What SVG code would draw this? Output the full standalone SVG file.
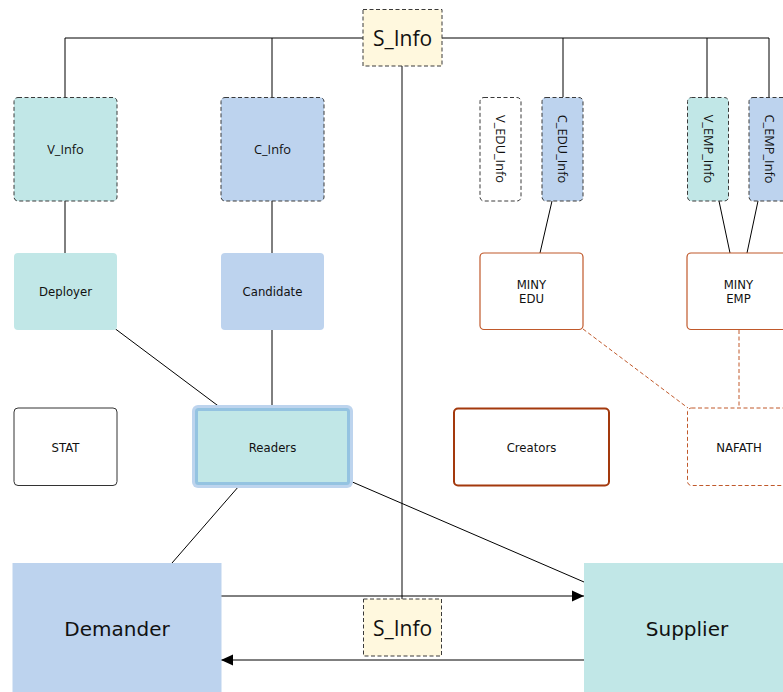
<svg xmlns="http://www.w3.org/2000/svg" width="783" height="692" viewBox="0 0 783 692">
  <defs>
    <marker id="arrow" viewBox="0 0 12 12" refX="12" refY="6" markerWidth="12" markerHeight="12" markerUnits="userSpaceOnUse" orient="auto">
      <path d="M0,0.5 L12,6 L0,11.5 Z" fill="#000"/>
    </marker>
    <style>
      .lbl { font-family: "DejaVu Sans", "Liberation Sans", sans-serif; font-size: 11.7px; fill: #111; text-anchor: middle; }
      .info { font-family: "Open Sans", "Liberation Sans", sans-serif; font-size: 12.8px; fill: #111; text-anchor: middle; }
      .big { font-family: "DejaVu Sans", "Liberation Sans", sans-serif; font-size: 20px; fill: #111; text-anchor: middle; }
      .sinfo { font-family: "Open Sans", "Liberation Sans", sans-serif; font-size: 21px; fill: #111; text-anchor: middle; }
      .dash { stroke: #3a3a3a; stroke-width: 1; stroke-dasharray: 4 2.5; }
      .teal { fill: #c1e7e7; }
      .blue { fill: #bdd3ee; }
      .cream { fill: #fff8de; }
      .white { fill: #ffffff; }
      .link { stroke: #000; stroke-width: 1; fill: none; }
      .orange { fill: #fff; stroke: #c0592b; stroke-width: 1.2; }
      .odash { stroke: #c0592b; stroke-width: 1; stroke-dasharray: 4 2.5; fill: none; }
    </style>
  </defs>

  <!-- connectors -->
  <g id="connectors">
    <!-- S_Info bus -->
    <polyline class="link" points="65,97 65,38 363,38"/>
    <line class="link" x1="272" y1="38" x2="272" y2="97"/>
    <polyline class="link" points="442,38 769,38 769,97"/>
    <line class="link" x1="563" y1="38" x2="563" y2="97"/>
    <line class="link" x1="707" y1="38" x2="707" y2="97"/>
    <line x1="402" y1="66" x2="402" y2="599" stroke="#5a5a5a" stroke-width="1.5"/>
    <!-- info to roles -->
    <line class="link" x1="65" y1="201" x2="65" y2="253"/>
    <line class="link" x1="272" y1="201" x2="272" y2="253"/>
    <line class="link" x1="115.5" y1="329" x2="221" y2="408"/>
    <line class="link" x1="272" y1="330" x2="272" y2="408"/>
    <line class="link" x1="239" y1="486" x2="172" y2="563"/>
    <line class="link" x1="350" y1="481" x2="584" y2="582"/>
    <!-- education / employment -->
    <line class="link" x1="552" y1="201" x2="540" y2="253"/>
    <line class="link" x1="719" y1="201" x2="730" y2="253"/>
    <line class="link" x1="758" y1="201" x2="747" y2="253"/>
    <line class="odash" x1="583" y1="329" x2="688" y2="408"/>
    <line class="odash" x1="739" y1="330" x2="739" y2="408"/>
    <!-- exchange arrows -->
    <line class="link" x1="221" y1="596" x2="584" y2="596" marker-end="url(#arrow)"/>
    <line class="link" x1="584" y1="660" x2="221" y2="660" marker-end="url(#arrow)"/>
  </g>

  <g id="s_info_top">
    <rect class="cream dash" x="363" y="9.5" width="79" height="56.5"/>
    <text class="sinfo" x="402.5" y="46">S_Info</text>
  </g>

  <g id="v_info">
    <rect class="teal dash" x="14" y="97.5" width="103" height="103.5" rx="4"/>
    <text class="info" x="65.5" y="154">V_Info</text>
  </g>
  <g id="c_info">
    <rect class="blue dash" x="221" y="97.5" width="103" height="103.5" rx="4"/>
    <text class="info" x="272.5" y="154">C_Info</text>
  </g>

  <g id="v_edu_info">
    <rect class="white dash" x="480" y="97.5" width="41" height="103.5" rx="4"/>
    <text class="info" transform="translate(500.5,149) rotate(90)" dy="4.5">V_EDU_Info</text>
  </g>
  <g id="c_edu_info">
    <rect class="blue dash" x="542" y="97.5" width="41" height="103.5" rx="4"/>
    <text class="info" transform="translate(562.5,149) rotate(90)" dy="4.5">C_EDU_Info</text>
  </g>
  <g id="v_emp_info">
    <rect class="teal dash" x="687.5" y="97.5" width="41" height="103.5" rx="4"/>
    <text class="info" transform="translate(708,149) rotate(90)" dy="4.5">V_EMP_Info</text>
  </g>
  <g id="c_emp_info">
    <rect class="blue dash" x="749" y="97.5" width="41" height="103.5" rx="4"/>
    <text class="info" transform="translate(769.5,149) rotate(90)" dy="4.5">C_EMP_Info</text>
  </g>

  <g id="deployer">
    <rect class="teal" x="14" y="253" width="103" height="77" rx="4"/>
    <text class="lbl" x="65.5" y="296">Deployer</text>
  </g>
  <g id="candidate">
    <rect class="blue" x="221" y="253" width="103" height="77" rx="4"/>
    <text class="lbl" x="272.5" y="296">Candidate</text>
  </g>

  <g id="miny_edu">
    <rect class="orange" x="480" y="253" width="103" height="76.5" rx="4"/>
    <text class="lbl" x="531.5" y="289">MINY</text>
    <text class="lbl" x="531.5" y="303">EDU</text>
  </g>
  <g id="miny_emp">
    <rect class="orange" x="687" y="253" width="103" height="76.5" rx="4"/>
    <text class="lbl" x="738.5" y="289">MINY</text>
    <text class="lbl" x="738.5" y="303">EMP</text>
  </g>

  <g id="stat">
    <rect x="14" y="408" width="103" height="77.5" rx="4" fill="#fff" stroke="#333" stroke-width="1"/>
    <text class="lbl" x="65.5" y="452">STAT</text>
  </g>
  <g id="readers">
    <rect x="192" y="405" width="161" height="83" rx="6" fill="#bdd4ee"/>
    <rect x="196.5" y="409.5" width="152" height="74" rx="2" fill="#c1e7e7" stroke="#94c3e1" stroke-width="3"/>
    <text class="lbl" x="272.5" y="452">Readers</text>
  </g>
  <g id="creators">
    <rect x="454" y="408.5" width="155" height="77" rx="4" fill="#fff" stroke="#a3390d" stroke-width="2"/>
    <text class="lbl" x="531.5" y="452">Creators</text>
  </g>
  <g id="nafath">
    <rect class="odash" x="687.5" y="408" width="103" height="77.5" rx="4" fill="#fff"/>
    <text class="lbl" x="739" y="452">NAFATH</text>
  </g>

  <g id="demander">
    <rect class="blue" x="12.5" y="563" width="209" height="130"/>
    <text class="big" x="117" y="636">Demander</text>
  </g>
  <g id="supplier">
    <rect class="teal" x="584" y="563" width="200" height="130"/>
    <text class="big" x="687" y="636">Supplier</text>
  </g>
  <g id="s_info_bottom">
    <rect class="cream dash" x="363.5" y="599" width="78" height="57"/>
    <text class="sinfo" x="402.5" y="636">S_Info</text>
  </g>
</svg>
